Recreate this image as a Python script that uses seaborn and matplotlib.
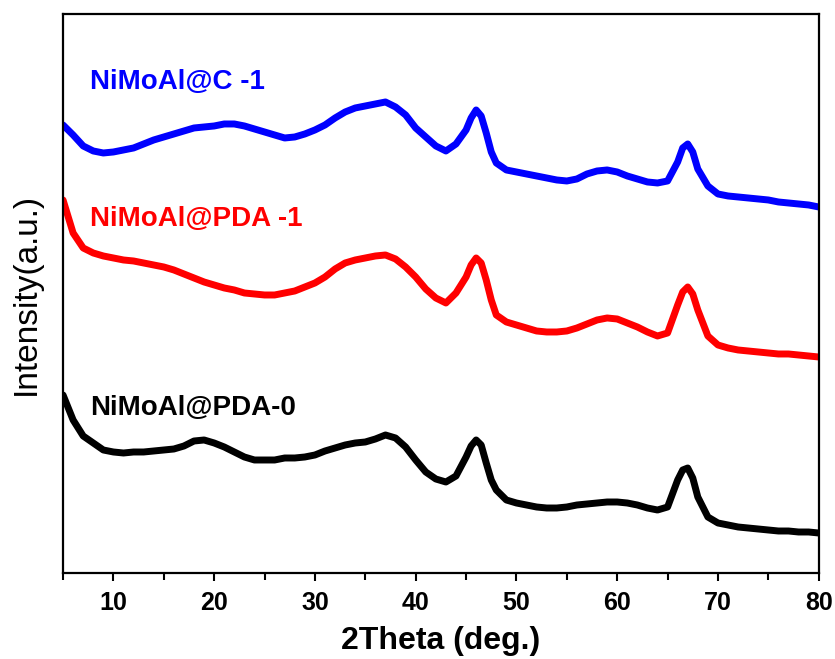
import matplotlib
matplotlib.use("Agg")
import matplotlib.pyplot as plt
import seaborn as sns
import pandas as pd
from matplotlib.ticker import MultipleLocator

# 2theta grid (deg.), denser around the two peaks
two_theta = [5, 6, 7, 8, 9, 10, 11, 12, 13, 14, 15, 16, 17, 18, 19, 20, 21, 22, 23, 24,
             25, 26, 27, 28, 29, 30, 31, 32, 33, 34, 35, 36, 37, 38, 39, 40, 41, 42, 43, 44,
             45, 45.5, 46, 46.5, 47, 47.5, 48, 49, 50, 51, 52, 53, 54, 55, 56, 57, 58, 59, 60,
             61, 62, 63, 64, 65, 66, 66.5, 67, 67.5, 68, 69, 70, 71, 72, 73, 74, 75, 76, 77,
             78, 79, 80]

# stacked intensities (a.u.)
c1 = [448, 438, 427, 422, 420, 421, 423, 425, 429, 433, 436, 439, 442, 445, 446, 447, 449, 449, 447, 444,
      441, 438, 435, 436, 439, 443, 448, 455, 461, 465, 467, 469, 471, 466, 458, 445, 436, 427, 422, 429,
      443, 455, 463, 457, 440, 421, 410, 403, 401, 399, 397, 395, 393, 392, 394, 399, 402, 403, 401,
      397, 394, 391, 390, 392, 411, 425, 429, 421, 404, 387, 379, 377, 376, 375, 374, 373, 371, 370,
      369, 368, 366]
pda1 = [373, 340, 325, 320, 317, 315, 313, 312, 310, 308, 306, 303, 299, 295, 291, 288, 285, 283, 280, 279,
        278, 278, 280, 282, 286, 290, 296, 304, 310, 313, 315, 317, 318, 314, 306, 296, 284, 275, 270, 280,
        296, 308, 315, 310, 293, 273, 258, 251, 248, 245, 242, 241, 241, 242, 245, 249, 253, 255, 254,
        250, 246, 241, 237, 240, 268, 281, 286, 279, 263, 237, 228, 225, 223, 222, 221, 220, 219, 219,
        218, 217, 216]
pda0 = [178, 153, 137, 130, 123, 121, 120, 121, 121, 122, 123, 124, 127, 132, 133, 130, 126, 121, 116, 113,
        113, 113, 115, 115, 116, 118, 122, 125, 128, 130, 131, 134, 138, 135, 126, 113, 101, 94, 91, 97,
        116, 127, 133, 128, 110, 93, 83, 73, 70, 68, 66, 65, 65, 66, 68, 69, 70, 71, 71,
        70, 68, 65, 63, 66, 93, 103, 105, 95, 76, 56, 50, 48, 46, 45, 44, 43, 42, 42,
        41, 41, 40]

samples = ["NiMoAl@C -1", "NiMoAl@PDA -1", "NiMoAl@PDA-0"]
colors = ["#0000ff", "#ff0000", "#000000"]
label_y = [491, 354, 165]

df = pd.DataFrame({
    "2theta": two_theta * 3,
    "intensity": c1 + pda1 + pda0,
    "sample": [s for s in samples for _ in two_theta],
})

sns.set_style("ticks")
plt.rcParams["font.family"] = ["Liberation Sans", "DejaVu Sans"]
plt.rcParams.update({
    "text.color": "black",
    "axes.labelcolor": "black",
    "axes.edgecolor": "black",
    "xtick.color": "black",
    "ytick.color": "black",
})

fig = plt.figure(figsize=(8.35, 6.59), dpi=100)
ax = fig.add_axes([0.0755, 0.1305, 0.905, 0.8483])

sns.lineplot(data=df, x="2theta", y="intensity", hue="sample", palette=colors,
             hue_order=samples, linewidth=5, legend=False, ax=ax)

for name, col, yy in zip(samples, colors, label_y):
    ax.text(7.7, yy, name, color=col, fontsize=20, fontweight="bold",
            ha="left", va="center")

ax.set_xlim(5, 80)
ax.set_ylim(0, 559)
ax.xaxis.set_major_locator(MultipleLocator(10))
ax.xaxis.set_minor_locator(MultipleLocator(5))
ax.set_yticks([])
ax.tick_params(axis="x", which="major", direction="out", length=6, width=1.5,
               labelsize=18, pad=7)
ax.tick_params(axis="x", which="minor", direction="out", length=5, width=1.5)
plt.setp(ax.get_xticklabels(), fontweight="bold")
for sp in ax.spines.values():
    sp.set_linewidth(1.6)

ax.set_xlabel("2Theta (deg.)", fontsize=23, fontweight="bold", labelpad=8)
ax.set_ylabel("Intensity(a.u.)", fontsize=24, labelpad=15)

fig.savefig("out.png", dpi=100)
